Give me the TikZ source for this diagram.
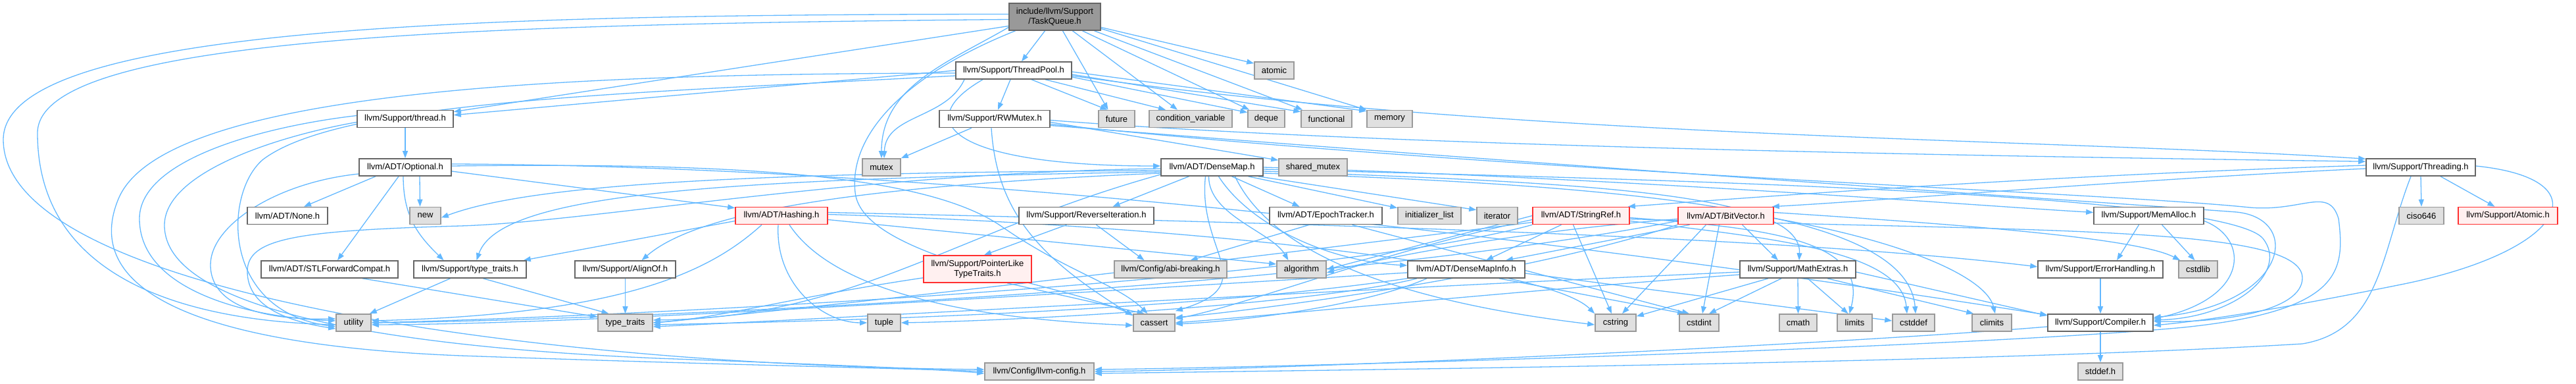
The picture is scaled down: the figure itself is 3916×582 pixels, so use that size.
\documentclass[tikz,border=0pt]{standalone}
\usepackage{fontspec}
\setmainfont{Liberation Sans}
\usetikzlibrary{arrows.meta}
\definecolor{edgec}{HTML}{63B8FF}
\definecolor{gfourty}{HTML}{666666}
\definecolor{gsixty}{HTML}{999999}
\definecolor{gninety}{HTML}{E0E0E0}
\definecolor{redfill}{HTML}{FFF0F0}
\definecolor{redline}{HTML}{FF3030}
\pgfdeclarelayer{bg}
\pgfsetlayers{bg,main}
\begin{document}
\begin{tikzpicture}[x=1pt,y=1pt,
  box/.style={draw=gfourty, fill=white, line width=1.6pt, inner sep=0pt, minimum height=26pt, font=\fontsize{13}{15}\selectfont, text=black},
  sysbox/.style={box, draw=gsixty, fill=gninety},
  redbox/.style={box, draw=redline, fill=redfill},
  e/.style={draw=edgec, line width=1.3pt, -{Triangle[length=11pt,width=8pt]}}]
\useasboundingbox (0,0) rectangle (3916,582);
% row A
\node[box, fill=gsixty, draw=gfourty, minimum width=139pt, minimum height=41pt, align=center] (tq) at (1603.5,556.5) {include/llvm/Support\\/TaskQueue.h};
% row B
\node[box, minimum width=176pt] (tp) at (1541,475) {llvm/Support/ThreadPool.h};
\node[sysbox, minimum width=60pt] (atomic) at (1937,475) {atomic};
% row C
\node[box, minimum width=146pt] (thr) at (616,401.5) {llvm/Support/thread.h};
\node[box, minimum width=168pt] (rw) at (1512,401.5) {llvm/Support/RWMutex.h};
\node[sysbox, minimum width=55pt] (future) at (1697.5,401.5) {future};
\node[sysbox, minimum width=126pt] (cv) at (1810,401.5) {condition\_variable};
\node[sysbox, minimum width=56pt] (deque) at (1925,401.5) {deque};
\node[sysbox, minimum width=77pt] (functional) at (2016.5,401.5) {functional};
\node[sysbox, minimum width=69pt] (memory) at (2112.5,401.5) {memory};
% row D
\node[box, minimum width=140pt] (opt) at (616,328) {llvm/ADT/Optional.h};
\node[sysbox, minimum width=58pt] (mutex) at (1340,328) {mutex};
\node[box, minimum width=155pt] (dm) at (1842.5,328) {llvm/ADT/DenseMap.h};
\node[sysbox, minimum width=104pt] (smutex) at (1996,328) {shared\_mutex};
\node[box, minimum width=166pt] (thg) at (3680,328) {llvm/Support/Threading.h};
% row E
\node[box, minimum width=122pt] (none) at (437,254.5) {llvm/ADT/None.h};
\node[sysbox, minimum width=47pt] (new) at (646.5,254.5) {new};
\node[redbox, minimum width=140pt] (hash) at (1188,254.5) {llvm/ADT/Hashing.h};
\node[box, minimum width=205pt] (rev) at (1651.5,254.5) {llvm/Support/ReverseIteration.h};
\node[box, minimum width=171pt] (epoch) at (2015.5,254.5) {llvm/ADT/EpochTracker.h};
\node[sysbox, minimum width=96pt] (il) at (2173,254.5) {initializer\_list};
\node[sysbox, minimum width=62pt] (iter) at (2276,254.5) {iterator};
\node[redbox, minimum width=147pt] (sref) at (2403.5,254.5) {llvm/ADT/StringRef.h};
\node[redbox, minimum width=145pt] (bv) at (2623.5,254.5) {llvm/ADT/BitVector.h};
\node[box, minimum width=167pt] (mema) at (3266.5,254.5) {llvm/Support/MemAlloc.h};
\node[sysbox, minimum width=68pt] (ciso) at (3681,254.5) {ciso646};
\node[redbox, minimum width=151pt] (atomh) at (3812.5,254.5) {llvm/Support/Atomic.h};
% row F
\node[box, minimum width=208pt] (stl) at (501,173) {llvm/ADT/STLForwardCompat.h};
\node[box, minimum width=171pt] (stt) at (714.5,173) {llvm/Support/type\_traits.h};
\node[box, minimum width=153pt] (align) at (950.5,173) {llvm/Support/AlignOf.h};
\node[redbox, minimum width=164pt, minimum height=41pt, align=center] (plt) at (1486,173.5) {llvm/Support/PointerLike\\TypeTraits.h};
\node[sysbox, minimum width=171pt] (abi) at (1779.5,173) {llvm/Config/abi-breaking.h};
\node[sysbox, minimum width=75pt] (algo) at (1978.5,173) {algorithm};
\node[box, minimum width=178pt] (dmi) at (2229,173) {llvm/ADT/DenseMapInfo.h};
\node[box, minimum width=176pt] (mex) at (2733,173) {llvm/Support/MathExtras.h};
\node[box, minimum width=190pt] (eh) at (3193,173) {llvm/Support/ErrorHandling.h};
\node[sysbox, minimum width=59pt] (cstdlib) at (3341.5,173) {cstdlib};
% row G
\node[sysbox, minimum width=53pt] (util) at (537.5,92) {utility};
\node[sysbox, minimum width=83pt] (tt) at (950.5,92) {type\_traits};
\node[sysbox, minimum width=50pt] (tuple) at (1344,92) {tuple};
\node[sysbox, minimum width=63pt] (cassert) at (1754.5,92) {cassert};
\node[sysbox, minimum width=62pt] (cstring) at (2456,92) {cstring};
\node[sysbox, minimum width=60pt] (cstdint) at (2583,92) {cstdint};
\node[sysbox, minimum width=57pt] (cmath) at (2733.5,92) {cmath};
\node[sysbox, minimum width=53pt] (limits) at (2819.5,92) {limits};
\node[sysbox, minimum width=64pt] (cstddef) at (2909,92) {cstddef};
\node[sysbox, minimum width=60pt] (climits) at (3028,92) {climits};
\node[box, minimum width=160pt] (comp) at (3193,92) {llvm/Support/Compiler.h};
% row H
\node[sysbox, minimum width=166pt] (cfg) at (1580,18) {llvm/Config/llvm-config.h};
\node[sysbox, minimum width=68pt] (stddef) at (3193,18) {stddef.h};

\begin{pgfonlayer}{bg}
% TaskQueue
\draw[e] ([xshift=-15pt]tq.south) -- ([xshift=12pt]tp.north);
\draw[e] ([yshift=-14pt]tq.west) -- ([yshift=-3pt]thr.north east);
\draw[e] ([yshift=-16pt]tq.east) -- ([yshift=-3pt]atomic.north west);
\draw[e] ([xshift=12pt]tq.south) -- ([xshift=-13pt]future.north);
\draw[e] ([xshift=27pt]tq.south) -- ([xshift=-20pt]cv.north);
\draw[e] ([xshift=42pt]tq.south) -- ([xshift=3pt]deque.north west);
\draw[e] ([xshift=60pt]tq.south) -- ([xshift=3pt]functional.north west);
\draw[e] ([yshift=-18pt]tq.east) -- (memory.north west);
\draw[e] ([yshift=-16pt]tq.west) to[out=-150,in=90] (mutex.north);
\draw[e] ([xshift=-60pt]tq.south) .. controls (1380,470) and (1290,380) .. (1300,290) .. controls (1310,190) and (1620,150) .. ([yshift=-2pt]cassert.north west);
\draw[e] ([yshift=-4pt]tq.west) .. controls (700,545) and (57,525) .. (57,380) .. controls (57,150) and (300,95) .. ([yshift=-3pt]util.west);
\draw[e] ([yshift=4pt]tq.west) .. controls (700,560) and (5,540) .. (5,370) .. controls (5,140) and (800,28) .. ([yshift=3pt]cfg.west);
% ThreadPool
\draw[e] (tp.west) -- ([yshift=-8pt]thr.north east);
\draw[e] ([xshift=-5pt]tp.south) -- ([xshift=5pt]rw.north);
\draw[e] ([xshift=27pt]tp.south) -- ([xshift=-14pt]future.north);
\draw[e] ([xshift=48pt]tp.south) -- ([xshift=-38pt]cv.north);
\draw[e] ([yshift=-10pt]tp.east) -- ([yshift=-4pt]deque.north west);
\draw[e] ([yshift=-6pt]tp.east) -- ([yshift=-3pt]functional.north west);
\draw[e] ([yshift=-2pt]tp.east) -- ([yshift=-2pt]memory.north west);
\draw[e] ([xshift=-75pt]tp.south) to[out=-115,in=88] ([xshift=4pt]mutex.north);
\draw[e] ([xshift=-47pt]tp.south) .. controls (1374,392) and (1465,330) .. ([yshift=2pt]dm.west);
\draw[e] ([yshift=-8pt]tp.east) .. controls (2300,372) and (3100,372) .. ([yshift=-1pt]thg.north west);
\draw[e] ([yshift=-8pt]tp.west) .. controls (950,440) and (520,430) .. (400,340) .. controls (340,290) and (335,110) .. ([yshift=-6pt]util.west);
\draw[e] ([yshift=-4pt]tp.west) .. controls (900,470) and (250,450) .. (180,280) .. controls (130,160) and (250,60) .. (700,42) .. controls (1100,28) and (1400,22) .. (cfg.west);
% thread.h
\draw[e] (thr) -- (opt);
\draw[e] ([yshift=5pt]thr.west) .. controls (400,390) and (212,340) .. (212,250) .. controls (212,140) and (380,100) .. ([yshift=3pt]util.west);
\draw[e] ([yshift=-5pt]thr.west) .. controls (420,375) and (250,320) .. (250,240) .. controls (250,110) and (600,55) .. (1000,38) .. controls (1300,27) and (1450,20) .. ([yshift=-3pt]cfg.west);
% Optional
\draw[e] ([xshift=-45pt]opt.south) -- ([xshift=25pt]none.north);
\draw[e] ([xshift=22pt]opt.south) -- ([xshift=-8pt]new.north);
\draw[e] ([xshift=-10pt]opt.south) -- ([xshift=12pt]stl.north);
\draw[e] ([xshift=-3pt]opt.south) .. controls (613,255) and (634,226) .. ([xshift=-40pt]stt.north);
\draw[e] ([yshift=-6pt]opt.east) -- ([yshift=-2pt]hash.north west);
\draw[e] ([yshift=2pt]opt.east) .. controls (1100,335) and (1400,320) .. (1520,240) .. controls (1620,170) and (1700,150) .. ([xshift=-10pt]cassert.north);
\draw[e] ([yshift=5pt]opt.east) .. controls (1500,330) and (2500,200) .. ([yshift=-2pt]comp.north west);
\draw[e] ([yshift=-10pt]opt.west) .. controls (420,305) and (320,240) .. (320,180) .. controls (320,110) and (420,96) .. ([yshift=6pt]util.west);
% Hashing
\draw[e] ([yshift=-8pt]hash.west) -- ([xshift=-5pt]stt.north east);
\draw[e] ([xshift=-30pt]hash.south) .. controls (1080,170) and (950,105) .. ([yshift=3pt]util.east);
\draw[e] ([xshift=-5pt]hash.south) .. controls (1178,151) and (1250,92) .. (tuple.west);
\draw[e] ([xshift=12pt]hash.south) .. controls (1280,120) and (1550,95) .. ([yshift=-4pt]cassert.west);
\draw[e] ([yshift=-6pt]hash.east) -- ([yshift=8pt]algo.west);
\draw[e] ([yshift=2pt]hash.east) .. controls (1800,240) and (2350,180) .. (cstring.north west);
\draw[e] ([yshift=5pt]hash.east) .. controls (1900,245) and (2700,225) .. ([yshift=4pt]eh.west);
% DenseMap
\draw[e] ([xshift=10pt]dm.south) .. controls (1900,240) and (2020,185) .. ([yshift=6pt]dmi.west);
\draw[e] ([xshift=30pt]dm.south) -- ([xshift=-40pt]epoch.north);
\draw[e] ([xshift=55pt]dm.south) -- ([yshift=-2pt]il.north west);
\draw[e] ([xshift=-8pt]dm.south east) -- ([yshift=-5pt]iter.north west);
\draw[e] ([xshift=-5pt]dm.south) .. controls (1837,255) and (1933,230) .. ([xshift=-20pt]algo.north);
\draw[e] ([xshift=-10pt]dm.south) .. controls (1820,200) and (1920,150) .. ([yshift=4pt]cassert.north east);
\draw[e] ([xshift=-35pt]dm.south) -- ([xshift=40pt]rev.north);
\draw[e] ([yshift=-2pt]dm.west) .. controls (1300,320) and (900,245) .. (700,239) .. controls (450,232) and (376,220) .. (376,170) .. controls (376,120) and (430,95) .. ([yshift=-9pt]util.west);
\draw[e] ([yshift=-5pt]dm.west) .. controls (1100,320) and (800,300) .. ([yshift=-3pt]new.east);
\draw[e] ([yshift=-7pt]dm.west) .. controls (1100,310) and (760,290) .. ([xshift=10pt]stt.north);
\draw[e] ([yshift=-9pt]dm.west) .. controls (1300,300) and (1060,260) .. ([xshift=25pt]align.north);
\draw[e] ([yshift=-11pt]dm.west) .. controls (1450,230) and (1300,100) .. ([yshift=4pt]tt.east);
\draw[e] ([yshift=-3pt]dm.east) .. controls (2500,310) and (3380,290) .. (3440,220) .. controls (3480,170) and (3400,100) .. ([yshift=4pt]comp.east);
\draw[e] ([yshift=-6pt]dm.east) .. controls (2400,305) and (2740,290) .. ([xshift=2pt]mex.north);
\draw[e] (dm.east) .. controls (2500,310) and (3000,270) .. ([yshift=5pt]mema.west);
\draw[e] ([yshift=-9pt]dm.east) .. controls (2500,300) and (2900,260) .. ([xshift=3pt]cstddef.north);
\draw[e] ([xshift=35pt]dm.south) .. controls (1950,160) and (2250,110) .. ([yshift=-3pt]cstring.west);
% DenseMapInfo
\draw[e] ([xshift=-60pt]dmi.south) .. controls (2080,120) and (1900,95) .. ([yshift=-2pt]cassert.east);
\draw[e] ([yshift=-6pt]dmi.east) -- ([yshift=3pt]cstddef.west);
\draw[e] ([xshift=50pt]dmi.south) -- ([xshift=-22pt]cstdint.north);
\draw[e] ([xshift=-75pt]dmi.south) .. controls (2000,120) and (1550,95) .. (tuple.east);
\draw[e] (dmi.south west) .. controls (1800,110) and (1300,95) .. ([yshift=-3pt]tt.east);
\draw[e] ([yshift=-5pt]dmi.west) .. controls (1500,130) and (900,90) .. ([yshift=-3pt]util.east);
% StringRef
\draw[e] ([xshift=-30pt]sref.south) -- ([xshift=30pt]dmi.north);
\draw[e] ([yshift=-5pt]sref.east) .. controls (3100,230) and (3500,240) .. (3500,160) .. controls (3500,110) and (3380,92) .. ([yshift=2pt]comp.east);
\draw[e] (sref.west) -- (algo.east);
\draw[e] ([yshift=-6pt]sref.west) .. controls (2100,200) and (1900,120) .. ([yshift=6pt]cassert.east);
\draw[e] ([yshift=-8pt]sref.east) .. controls (2700,220) and (2890,200) .. ([xshift=-10pt]cstddef.north);
\draw[e] ([xshift=-12pt]sref.south) -- ([xshift=-6pt]cstring.north);
\draw[e] ([yshift=-3pt]sref.east) .. controls (2700,235) and (2840,215) .. ([xshift=-8pt]limits.north);
\draw[e] ([yshift=-10pt]sref.west) .. controls (1900,190) and (1200,110) .. (tt.east);
\draw[e] (sref.south west) .. controls (2000,150) and (900,100) .. (util.east);
% BitVector
\draw[e] ([xshift=-55pt]bv.south) -- ([xshift=60pt]dmi.north);
\draw[e] ([xshift=25pt]bv.south) -- ([xshift=-30pt]mex.north);
\draw[e] ([yshift=-5pt]bv.west) .. controls (2300,230) and (2100,190) .. ([yshift=-5pt]algo.east);
\draw[e] (bv.south west) .. controls (2300,160) and (1900,110) .. ([yshift=8pt]cassert.east);
\draw[e] ([yshift=-4pt]bv.east) .. controls (2900,215) and (3020,160) .. ([xshift=5pt]climits.north);
\draw[e] ([xshift=-10pt]bv.south) -- ([xshift=5pt]cstdint.north);
\draw[e] ([yshift=5pt]bv.east) .. controls (3000,240) and (3250,220) .. ([xshift=3pt]cstdlib.north west);
\draw[e] ([xshift=-30pt]bv.south) -- ([xshift=10pt]cstring.north);
\draw[e] ([yshift=-8pt]bv.west) .. controls (2000,140) and (900,95) .. (util.east);
% MathExtras
\draw[e] ([yshift=-4pt]mex.east) -- ([yshift=-3pt]comp.north west);
\draw[e] ([yshift=-8pt]mex.west) .. controls (2300,140) and (1900,100) .. (cassert.east);
\draw[e] ([xshift=45pt]mex.south) -- ([xshift=3pt]climits.north west);
\draw[e] (mex.south) -- (cmath.north);
\draw[e] ([xshift=-25pt]mex.south) -- ([xshift=15pt]cstdint.north);
\draw[e] ([xshift=-45pt]mex.south) -- ([yshift=-4pt]cstring.north east);
\draw[e] ([xshift=15pt]mex.south) -- ([xshift=-10pt]limits.north);
\draw[e] ([yshift=-4pt]mex.west) .. controls (2000,140) and (1300,100) .. ([yshift=-6pt]tt.east);
% MemAlloc, ErrorHandling, Compiler
\draw[e] ([yshift=-8pt]mema.east) .. controls (3420,220) and (3420,130) .. ([yshift=6pt]comp.east);
\draw[e] ([xshift=-15pt]mema.south) -- ([xshift=25pt]eh.north);
\draw[e] ([xshift=20pt]mema.south) -- ([xshift=-5pt]cstdlib.north);
\draw[e] (eh) -- (comp);
\draw[e] ([yshift=-6pt]comp.west) .. controls (2800,60) and (2000,22) .. (cfg.east);
\draw[e] (comp) -- (stddef);
% Threading
\draw[e] ([yshift=3pt]thg.west) .. controls (3100,315) and (2700,285) .. ([xshift=-3pt]sref.north east);
\draw[e] ([yshift=-2pt]thg.west) .. controls (3250,310) and (2900,280) .. ([xshift=-3pt]bv.north east);
\draw[e] (thg.south) -- (ciso.north);
\draw[e] ([xshift=30pt]thg.south) -- ([xshift=-20pt]atomh.north);
\draw[e] ([yshift=2pt]thg.east) .. controls (3960,310) and (3900,200) .. (3650,150) .. controls (3450,110) and (3350,95) .. ([yshift=-4pt]comp.east);
\draw[e] ([xshift=-15pt]thg.south) .. controls (3620,200) and (3620,80) .. (3500,60) .. controls (3000,30) and (2000,20) .. ([yshift=-3pt]cfg.east);
% RWMutex
\draw[e] ([xshift=-35pt]rw.south) -- (mutex.north east);
\draw[e] ([xshift=-5pt]rw.south) .. controls (1515,260) and (1580,190) .. ([yshift=-3pt]cassert.north west);
\draw[e] ([yshift=-5pt]rw.east) -- ([yshift=-3pt]smutex.north west);
\draw[e] ([yshift=-2pt]rw.east) .. controls (2100,360) and (3000,345) .. ([yshift=-5pt]thg.north west);
\draw[e] ([yshift=-8pt]rw.east) .. controls (2300,320) and (3200,290) .. (3420,267) .. controls (3500,260) and (3540,300) .. (3555,250) .. controls (3565,170) and (3560,110) .. (3320,85) .. controls (3000,55) and (2000,25) .. ([yshift=3pt]cfg.east);
\draw[e] ([yshift=-10pt]rw.east) .. controls (2500,320) and (3200,275) .. (3400,260) .. controls (3500,250) and (3480,120) .. ([yshift=8pt]comp.east);
% others
\draw[e] ([xshift=20pt]stt.south) -- ([xshift=-25pt]tt.north);
\draw[e] ([xshift=-30pt]stt.south) -- ([xshift=-3pt]util.north east);
\draw[e] ([xshift=50pt]stl.south) -- ([yshift=-5pt]tt.north west);
\draw[e] (align) -- (tt);
\draw[e] ([xshift=15pt]rev.south) -- ([xshift=-40pt]abi.north);
\draw[e] ([xshift=-30pt]rev.south) -- ([xshift=10pt]plt.north);
\draw[e] ([xshift=45pt]plt.south) -- ([xshift=-15pt]cassert.north);
\draw[e] ([yshift=8pt]plt.south west) .. controls (1200,130) and (1100,100) .. (tt.east);
\draw[e] ([xshift=-25pt]epoch.south) -- ([xshift=30pt]abi.north);
\draw[e] ([xshift=40pt]epoch.south) -- ([xshift=-15pt]cstdint.north);
\end{pgfonlayer}
\end{tikzpicture}
\end{document}
